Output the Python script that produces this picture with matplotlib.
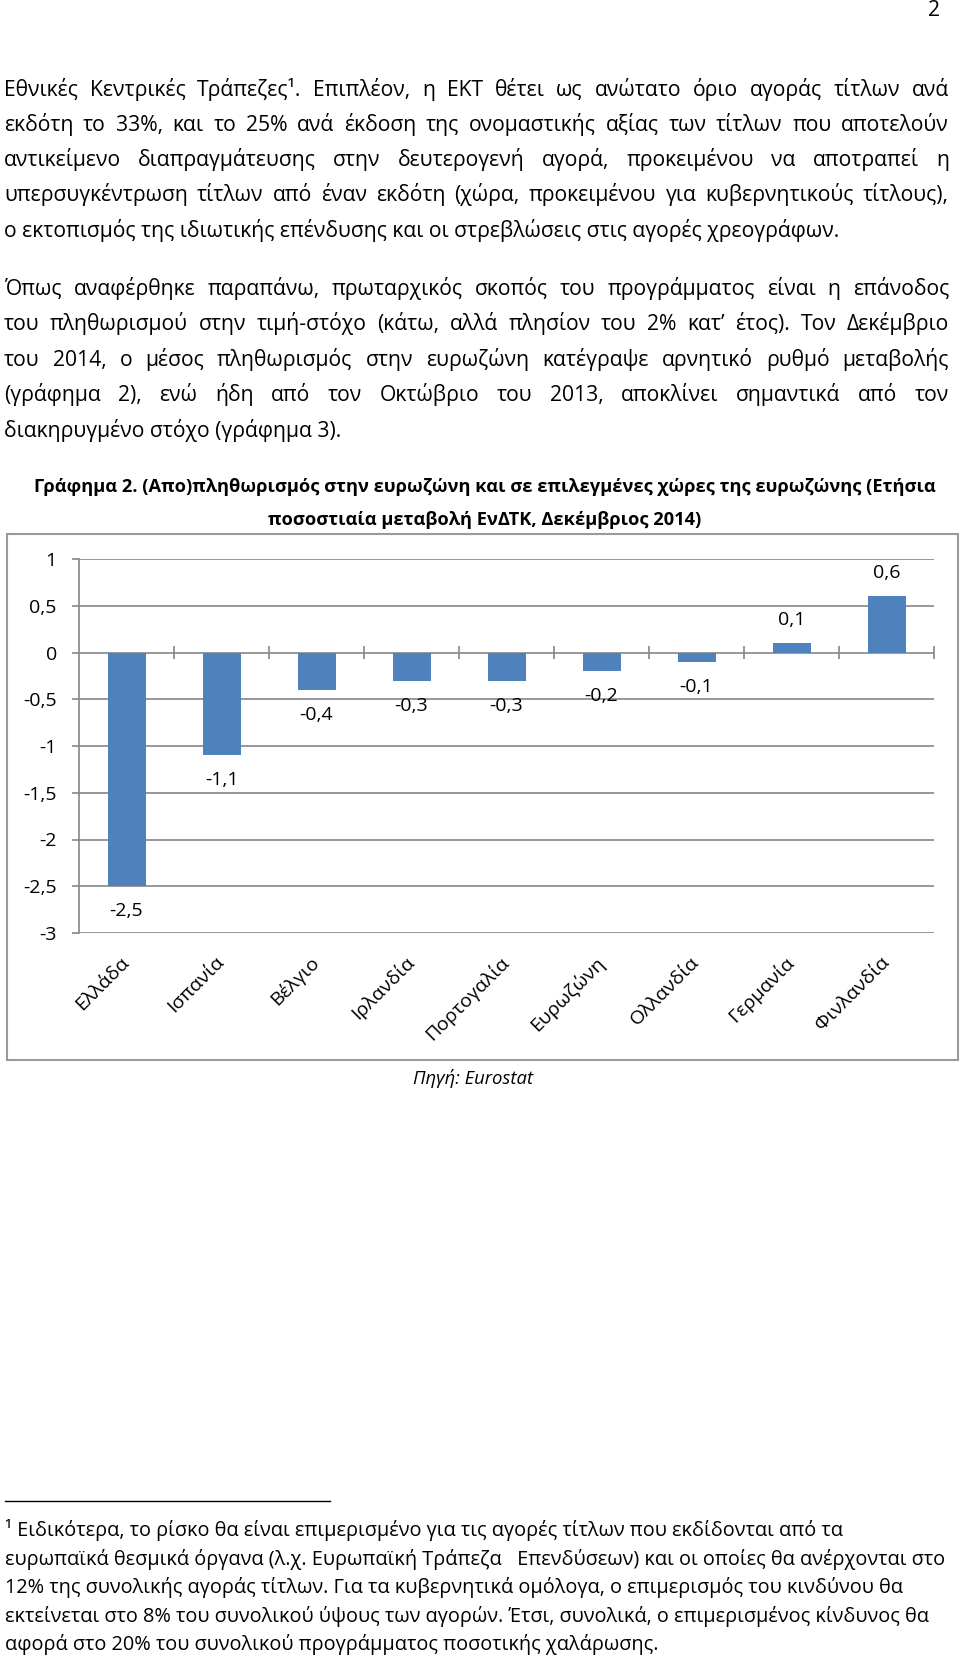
import matplotlib
matplotlib.use('Agg')
import matplotlib.pyplot as plt
import numpy as np
from matplotlib.patches import Rectangle

plt.rcParams['font.family'] = ['Open Sans', 'DejaVu Sans']

# chart data
countries = ['Ελλάδα', 'Ισπανία', 'Βέλγιο', 'Ιρλανδία', 'Πορτογαλία',
             'Ευρωζώνη', 'Ολλανδία', 'Γερμανία', 'Φινλανδία']
inflation = [-2.5, -1.1, -0.4, -0.3, -0.3, -0.2, -0.1, 0.1, 0.6]
y_ticks = [1, 0.5, 0, -0.5, -1, -1.5, -2, -2.5, -3]

# page text
para1 = [
    'Εθνικές Κεντρικές Τράπεζες¹. Επιπλέον, η ΕΚΤ θέτει ως ανώτατο όριο αγοράς τίτλων ανά',
    'εκδότη το 33%, και το 25% ανά έκδοση της ονομαστικής αξίας των τίτλων που αποτελούν',
    'αντικείμενο διαπραγμάτευσης στην δευτερογενή αγορά, προκειμένου να αποτραπεί η',
    'υπερσυγκέντρωση τίτλων από έναν εκδότη (χώρα, προκειμένου για κυβερνητικούς τίτλους),',
    'ο εκτοπισμός της ιδιωτικής επένδυσης και οι στρεβλώσεις στις αγορές χρεογράφων.',
]
para2 = [
    'Όπως αναφέρθηκε παραπάνω, πρωταρχικός σκοπός του προγράμματος είναι η επάνοδος',
    'του πληθωρισμού στην τιμή-στόχο (κάτω, αλλά πλησίον του 2% κατ’ έτος). Τον Δεκέμβριο',
    'του 2014, ο μέσος πληθωρισμός στην ευρωζώνη κατέγραψε αρνητικό ρυθμό μεταβολής',
    '(γράφημα 2), ενώ ήδη από τον Οκτώβριο του 2013, αποκλίνει σημαντικά από τον',
    'διακηρυγμένο στόχο (γράφημα 3).',
]
title = [
    'Γράφημα 2. (Απο)πληθωρισμός στην ευρωζώνη και σε επιλεγμένες χώρες της ευρωζώνης (Ετήσια',
    'ποσοστιαία μεταβολή ΕνΔΤΚ, Δεκέμβριος 2014)',
]
footnote = [
    '¹ Ειδικότερα, το ρίσκο θα είναι επιμερισμένο για τις αγορές τίτλων που εκδίδονται από τα',
    'ευρωπαϊκά θεσμικά όργανα (λ.χ. Ευρωπαϊκή Τράπεζα   Επενδύσεων) και οι οποίες θα ανέρχονται στο',
    '12% της συνολικής αγοράς τίτλων. Για τα κυβερνητικά ομόλογα, ο επιμερισμός του κινδύνου θα',
    'εκτείνεται στο 8% του συνολικού ύψους των αγορών. Έτσι, συνολικά, ο επιμερισμένος κίνδυνος θα',
    'αφορά στο 20% του συνολικού προγράμματος ποσοτικής χαλάρωσης.',
]


def comma(v):
    return ('%g' % v).replace('.', ',')


W, H = 960, 1655
LEFT, RIGHT = 4, 949
fig = plt.figure(figsize=(W / 100, H / 100), dpi=100)
page = fig.add_axes([0, 0, 1, 1])
page.set_xlim(0, W)
page.set_ylim(H, 0)
page.axis('off')
renderer = fig.canvas.get_renderer()


def text_width(s, **kw):
    t = page.text(0, 0, s, **kw)
    w = t.get_window_extent(renderer).width
    t.remove()
    return w


def fit_size(s, target, **kw):
    return 10 * target / text_width(s, fontsize=10, **kw)


def base(y, size):
    # visual line centre -> baseline (pixels, dpi 100)
    return y + 0.26 * size * 100 / 72


def justified(line, y, size):
    words = line.split(' ')
    widths = [text_width(w, fontsize=size) for w in words]
    gap = (RIGHT - LEFT - sum(widths)) / (len(words) - 1)
    x = LEFT
    for w, wd in zip(words, widths):
        page.text(x, base(y, size), w, fontsize=size, va='baseline')
        x += wd + gap


body = min(fit_size(line, 915) for line in para1[:-1] + para2[:-1])
page.text(940, 11, '2', fontsize=body, ha='right', va='center')

for i, line in enumerate(para1):
    y = 90 + i * 35.3
    if i < len(para1) - 1:
        justified(line, y, body)
    else:
        page.text(LEFT, base(y, body), line, fontsize=body, va='baseline')

for i, line in enumerate(para2):
    y = 289 + i * 35.6
    if i < len(para2) - 1:
        justified(line, y, body)
    else:
        page.text(LEFT, base(y, body), line, fontsize=body, va='baseline')

tsize = fit_size(title[0], 899, fontweight='bold')
for i, line in enumerate(title):
    page.text(485, base(487 + i * 33, tsize), line, fontsize=tsize, fontweight='bold',
              ha='center', va='baseline')

# chart frame and source
page.add_patch(Rectangle((7, 534), 951, 526, fill=False, edgecolor='#9a9a9a', lw=1.5))
page.text(473, 1078, 'Πηγή: Eurostat', fontsize=13.3, style='italic',
          ha='center', va='center')

# footnote
page.plot([5, 330], [1501, 1501], color='black', lw=1)
fsize = fit_size(footnote[1], 935)
for i, line in enumerate(footnote):
    page.text(5, base(1531 + i * 28.5, fsize), line, fontsize=fsize, va='baseline')

# bar chart
ax = fig.add_axes([79 / W, 1 - 933 / H, 855 / W, 374 / H])
ax.set_facecolor('none')
x = np.arange(len(countries))
ax.bar(x, inflation, width=0.4, color='#4F81BD', zorder=3)
ax.set_xlim(-0.5, len(countries) - 0.5)
ax.set_ylim(-3, 1)
ax.set_yticks(y_ticks)
ax.set_yticklabels([comma(v) for v in y_ticks])
ax.yaxis.grid(True, color='#868686', lw=1.2)
ax.set_axisbelow(True)
for s in ['top', 'right', 'bottom']:
    ax.spines[s].set_visible(False)
ax.spines['left'].set_color('#868686')
ax.spines['left'].set_linewidth(1.2)
ax.tick_params(axis='y', length=5, width=1.2, color='#868686', pad=11, labelsize=14)
ax.set_xticks(x)
ax.set_xticklabels(countries, rotation=45, ha='right', va='center', rotation_mode='anchor')
ax.tick_params(axis='x', length=0, pad=19, labelsize=14)
ax.vlines(x + 0.5, -0.07, 0.07, color='#868686', lw=1.2, clip_on=False)

for xi, v in zip(x, inflation):
    off = 23 if v > 0 else -25
    ax.annotate(comma(v), (xi, v), xytext=(0, off * 0.72), textcoords='offset points',
                ha='center', va='center', fontsize=14)

fig.savefig('out.png', dpi=100)
